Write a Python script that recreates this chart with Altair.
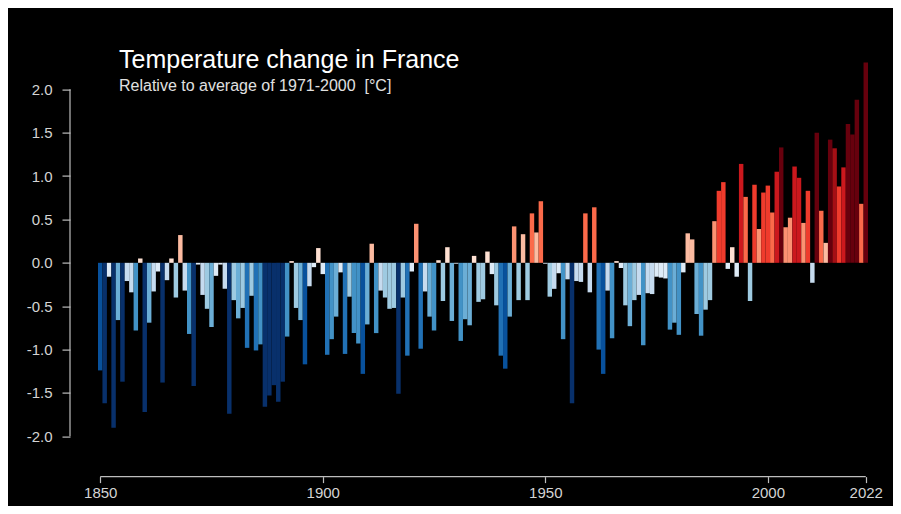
import altair as alt
import pandas as pd

years = list(range(1850, 2023))
anomaly = [
    -1.24, -1.62, -0.16, -1.90, -0.66, -1.37, -0.21, -0.34, -0.78, 0.05,   # 1850-1859
    -1.72, -0.69, -0.33, -0.10, -1.38, -0.20, 0.05, -0.40, 0.32, -0.32,    # 1860-1869
    -0.82, -1.42, -0.02, -0.37, -0.53, -0.74, -0.15, -0.02, -0.30, -1.74,  # 1870-1879
    -0.43, -0.64, -0.52, -0.98, -0.38, -1.01, -0.94, -1.66, -1.53, -1.41,  # 1880-1889
    -1.60, -1.37, -0.85, 0.02, -0.52, -0.66, -1.17, -0.27, -0.05, 0.17,    # 1890-1899
    -0.13, -1.06, -0.88, -0.62, -0.11, -1.05, -0.39, -0.81, -0.93, -1.28,  # 1900-1909
    -0.71, 0.22, -0.81, -0.32, -0.40, -0.53, -0.52, -1.51, -0.40, -1.07,   # 1910-1919
    -0.10, 0.45, -0.99, -0.33, -0.62, -0.78, 0.03, -0.44, 0.18, -0.67,     # 1920-1929
    -0.01, -0.90, -0.65, -0.72, 0.08, -0.45, -0.42, 0.13, -0.13, -0.49,    # 1930-1939
    -1.07, -1.22, -0.62, 0.42, -0.43, 0.33, -0.43, 0.57, 0.35, 0.71,       # 1940-1949
    -0.01, -0.39, -0.30, -0.12, -0.88, -0.19, -1.62, -0.21, -0.22, 0.57,   # 1950-1959
    -0.34, 0.64, -1.00, -1.28, -0.32, -0.87, 0.02, -0.06, -0.49, -0.73,    # 1960-1969
    -0.43, -0.37, -0.95, -0.35, -0.36, -0.16, -0.17, -0.18, -0.77, -0.69,  # 1970-1979
    -0.83, -0.11, 0.34, 0.27, -0.59, -0.84, -0.54, -0.43, 0.48, 0.83,      # 1980-1989
    0.93, -0.07, 0.18, -0.16, 1.14, 0.76, -0.44, 0.90, 0.39, 0.81,         # 1990-1999
    0.89, 0.58, 1.05, 1.33, 0.41, 0.52, 1.11, 0.98, 0.46, 0.83,            # 2000-2009
    -0.23, 1.50, 0.60, 0.23, 1.42, 1.32, 0.88, 1.10, 1.60, 1.48,           # 2010-2019
    1.88, 0.68, 2.31,                                                      # 2020-2022
]

x_ticks = [1850, 1900, 1950, 2000, 2022]
y_ticks = [-2.0, -1.5, -1.0, -0.5, 0.0, 0.5, 1.0, 1.5, 2.0]

stripe_colors = ['#08306b', '#08519c', '#2171b5', '#4292c6', '#6baed6', '#9ecae1',
                 '#c6dbef', '#deebf7', '#fee0d2', '#fcbba1', '#fc9272', '#fb6a4a',
                 '#ef3b2c', '#cb181d', '#a50f15', '#67000d']

df = pd.DataFrame({"year": years, "anomaly": anomaly})
df["x0"] = df["year"] - 0.5
df["x1"] = df["year"] + 0.5

W = 770
H = 422
AXC = "#bdbdbd"
LABC = "#d4d4d4"
FONT = "Liberation Sans"

xscale = alt.Scale(domain=[1849.5, 2022.5], nice=False, zero=False)
yscale = alt.Scale(domain=[-2.464, 2.4], nice=False, zero=False)

xaxis = alt.Axis(values=x_ticks, format="d", domain=False, grid=False,
                 tickSize=6, tickColor=AXC, tickWidth=1.2,
                 labelColor=LABC, labelFontSize=15, labelFont=FONT,
                 labelPadding=3, title=None, labelFlush=False)
yaxis = alt.Axis(values=y_ticks, domain=False, grid=False, offset=28,
                 tickSize=8, tickColor=AXC, tickWidth=1.2,
                 labelColor=LABC, labelFontSize=15, labelFont=FONT,
                 labelPadding=10, title=None,
                 labelExpr="datum.value < 0 ? '-' + format(-datum.value, '.1f') : format(datum.value, '.1f')")

bars = alt.Chart(df).mark_rect().encode(
    x=alt.X("x0:Q", scale=xscale, axis=xaxis),
    x2="x1:Q",
    y=alt.Y("anomaly:Q", scale=yscale, axis=yaxis),
    y2=alt.datum(0),
    color=alt.Color("anomaly:Q",
                    scale=alt.Scale(type="quantize", domain=[-1.52, 1.52], range=stripe_colors),
                    legend=None),
)

xline = alt.Chart(pd.DataFrame({"x0": [x_ticks[0]], "x1": [x_ticks[-1]]})).mark_rule(
    color=AXC, strokeWidth=1.2).encode(
    x=alt.X("x0:Q", scale=xscale, axis=xaxis), x2="x1:Q", y=alt.value(H))

yline = alt.Chart(pd.DataFrame({"anomaly": [y_ticks[0]], "b": [y_ticks[-1]]})).mark_rule(
    color=AXC, strokeWidth=1.2).encode(
    y=alt.Y("anomaly:Q", scale=yscale, axis=yaxis), y2="b:Q", x=alt.value(-28))

chart = alt.layer(bars, xline, yline).properties(
    width=W, height=H,
    autosize=alt.AutoSizeParams(type="none"),
    padding={"left": 90, "top": 46.6, "right": 25, "bottom": 29.4},
    background="black",
    title=alt.TitleParams(
        text="Temperature change in France",
        subtitle="Relative to average of 1971-2000\u00a0 [°C]",
        anchor="start", frame="group", orient="top", offset=-39, dx=21,
        color="white", fontSize=25, font=FONT, fontWeight="normal",
        subtitleColor="#e0e0e0", subtitleFontSize=16, subtitleFont=FONT,
        subtitlePadding=5),
).configure_view(stroke=None)

chart.save("out.html", embed_options={"renderer": "svg", "actions": False})
